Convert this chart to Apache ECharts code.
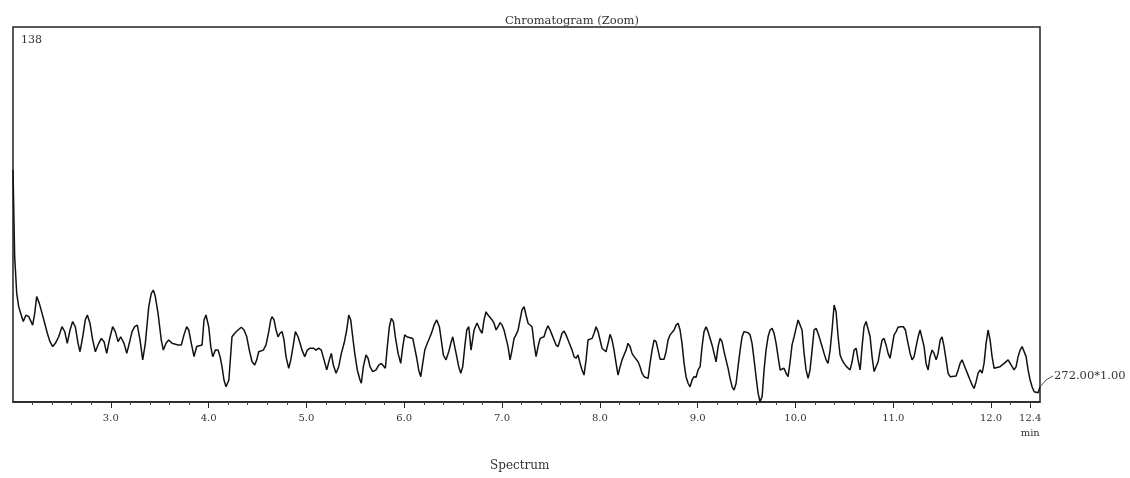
<!DOCTYPE html>
<html>
<head>
<meta charset="utf-8">
<script src="https://cdn.jsdelivr.net/npm/echarts@6/dist/echarts.min.js"></script>
<style>html,body{margin:0;padding:0;background:#fff}#c{width:1130px;height:478px}</style>
</head>
<body>
<div id="c"></div>
<script>
// retention time (min)
const times = [
2.000,2.017,2.038,2.058,2.079,2.105,2.133,2.161,2.181,2.201,2.222,2.242,2.269,2.297,2.324,2.351,2.378,2.406,2.433,2.467,
2.501,2.529,2.555,2.583,2.610,2.637,2.665,2.685,2.713,2.739,2.760,2.787,2.815,2.842,2.869,2.903,2.931,2.958,2.985,3.019,
3.046,3.074,3.101,3.135,3.163,3.189,3.217,3.244,3.271,3.299,3.326,3.353,3.388,3.414,3.435,3.455,3.483,3.516,3.537,3.564,
3.592,3.626,3.687,3.721,3.748,3.776,3.797,3.823,3.851,3.878,3.933,3.953,3.973,4.001,4.022,4.042,4.069,4.096,4.117,4.137,
4.157,4.178,4.207,4.239,4.267,4.301,4.334,4.362,4.390,4.416,4.444,4.471,4.492,4.512,4.559,4.587,4.615,4.635,4.648,4.669,
4.689,4.710,4.730,4.751,4.771,4.791,4.819,4.840,4.866,4.887,4.914,4.935,4.955,4.983,5.009,5.037,5.071,5.098,5.126,5.152,
5.180,5.208,5.234,5.255,5.275,5.303,5.330,5.357,5.385,5.412,5.433,5.453,5.473,5.494,5.520,5.548,5.561,5.582,5.609,5.630,
5.650,5.678,5.712,5.739,5.766,5.807,5.827,5.848,5.868,5.889,5.909,5.937,5.964,5.985,6.005,6.026,6.087,6.107,6.128,6.148,
6.169,6.189,6.210,6.236,6.264,6.284,6.305,6.332,6.359,6.379,6.400,6.427,6.455,6.476,6.496,6.516,6.537,6.557,6.578,6.598,
6.619,6.639,6.660,6.683,6.714,6.744,6.775,6.796,6.816,6.836,6.857,6.898,6.918,6.939,6.959,6.980,7.000,7.020,7.041,7.061,
7.082,7.102,7.123,7.143,7.164,7.184,7.204,7.225,7.245,7.266,7.286,7.307,7.327,7.348,7.368,7.389,7.429,7.450,7.470,7.491,
7.511,7.532,7.552,7.573,7.593,7.613,7.634,7.654,7.675,7.695,7.716,7.736,7.757,7.777,7.798,7.818,7.838,7.859,7.879,7.920,
7.941,7.961,7.982,8.002,8.022,8.063,8.084,8.104,8.125,8.145,8.166,8.186,8.207,8.227,8.247,8.268,8.288,8.309,8.329,8.350,
8.391,8.411,8.431,8.452,8.493,8.513,8.534,8.554,8.575,8.595,8.616,8.656,8.677,8.697,8.718,8.759,8.779,8.800,8.820,8.840,
8.861,8.881,8.902,8.922,8.943,8.963,8.984,9.004,9.025,9.045,9.065,9.086,9.106,9.127,9.147,9.168,9.188,9.209,9.229,9.249,
9.270,9.290,9.311,9.331,9.352,9.372,9.393,9.413,9.434,9.454,9.474,9.515,9.536,9.556,9.577,9.597,9.618,9.638,9.659,9.679,
9.699,9.720,9.740,9.761,9.781,9.802,9.822,9.843,9.863,9.883,9.904,9.924,9.945,9.965,9.986,10.006,10.027,10.047,10.067,10.088,
10.108,10.129,10.149,10.170,10.190,10.211,10.231,10.252,10.272,10.292,10.313,10.333,10.354,10.374,10.395,10.415,10.436,10.456,10.476,10.497,
10.517,10.558,10.579,10.599,10.620,10.640,10.661,10.681,10.701,10.722,10.742,10.763,10.783,10.804,10.824,10.845,10.865,10.885,10.906,10.926,
10.947,10.967,10.988,11.008,11.029,11.049,11.070,11.103,11.124,11.144,11.172,11.192,11.213,11.233,11.254,11.274,11.294,11.315,11.335,11.356,
11.376,11.397,11.417,11.438,11.458,11.479,11.499,11.519,11.540,11.560,11.581,11.642,11.663,11.683,11.703,11.724,11.744,11.765,11.785,11.806,
11.826,11.847,11.867,11.888,11.908,11.928,11.949,11.969,11.990,12.010,12.031,12.051,12.092,12.112,12.133,12.174,12.194,12.215,12.235,12.256,
12.276,12.297,12.317,12.337,12.358,12.378,12.399,12.419,12.440,12.460,12.481,12.500
];
// intensity (arbitrary units, full scale 138)
const intensity = [
85.4,53.5,40.0,35.1,32.6,29.6,32.0,31.4,32.0,28.3,32.6,38.8,36.3,32.6,29.0,25.3,22.2,20.4,21.6,24.0,
27.7,25.9,21.6,26.5,29.6,27.7,21.6,18.5,24.0,30.2,32.0,29.0,22.8,18.5,21.0,23.4,22.2,17.9,22.8,27.7,
25.9,22.2,24.0,21.6,17.9,21.6,25.9,27.7,28.3,22.8,15.5,21.6,35.1,40.0,41.2,38.8,32.6,22.8,19.1,21.6,
22.8,21.6,21.0,21.0,24.7,27.7,26.5,21.6,16.7,20.4,21.0,30.2,32.0,27.7,20.4,16.7,19.1,19.1,16.7,13.0,
8.1,5.6,8.1,24.0,25.3,26.5,27.5,26.5,24.0,19.1,14.8,13.6,15.5,18.5,19.1,21.0,25.9,30.2,31.4,30.2,
26.5,24.0,25.3,25.9,22.8,16.7,12.4,15.5,21.0,25.9,24.0,21.6,19.1,16.7,19.1,19.8,19.8,19.1,19.8,19.1,
15.5,11.8,15.5,17.9,13.6,10.6,13.0,17.9,21.6,26.5,32.0,30.2,24.0,17.9,11.8,8.1,6.9,13.0,17.3,16.1,
13.0,11.2,11.8,13.6,14.2,12.4,20.4,27.7,30.8,29.6,24.0,17.9,14.2,20.4,24.7,24.0,23.4,22.8,16.1,11.8,
9.3,14.2,19.1,21.6,24.0,25.9,28.3,30.2,27.7,22.8,17.3,15.5,18.5,21.6,24.0,20.4,16.7,13.0,10.6,13.0,
20.4,26.5,27.7,19.1,26.5,29.1,26.5,25.3,30.2,33.2,32.0,30.2,29.0,26.5,27.7,29.2,28.3,26.5,23.4,20.4,
15.5,19.1,23.4,24.7,26.5,30.2,33.9,35.1,32.0,29.0,29.0,27.7,21.6,16.7,20.4,23.4,24.0,26.5,28.0,26.5,
24.7,22.8,21.0,20.4,22.8,25.3,26.1,24.7,22.8,21.0,19.1,16.7,16.1,17.3,14.2,11.8,9.9,15.5,22.8,23.4,
25.3,27.7,25.9,22.8,19.8,18.5,21.6,24.9,22.8,19.1,14.2,9.9,13.0,15.5,17.3,19.1,21.6,20.4,17.9,16.7,
14.8,13.0,10.6,9.3,8.7,14.2,19.1,22.8,22.2,19.1,15.7,15.7,18.5,22.8,24.7,26.5,28.3,29.0,26.5,21.6,
14.2,9.3,6.9,5.6,8.1,9.3,9.1,11.8,13.0,20.4,25.9,27.7,25.9,23.4,21.0,17.9,14.8,20.4,23.4,22.2,
18.5,15.5,12.4,8.7,5.6,4.4,6.9,13.0,19.1,24.0,25.9,25.5,24.7,21.6,15.5,9.3,3.2,0.1,2.0,11.8,
19.1,24.0,26.5,27.1,25.3,21.6,16.7,11.8,12.4,12.4,10.6,9.3,14.8,21.0,24.0,27.1,30.2,30.2,26.5,17.9,
11.8,8.7,11.8,19.1,26.5,27.1,25.3,22.8,20.4,17.9,15.5,14.2,19.1,26.5,35.7,33.2,24.0,17.3,15.5,14.2,
13.2,11.8,14.8,19.1,19.8,15.5,11.8,20.4,27.7,29.6,29.0,24.0,16.7,11.2,10.6,14.8,19.1,22.8,23.4,21.0,
17.9,16.1,20.4,24.7,25.9,27.5,27.7,27.7,26.5,22.8,17.9,15.5,16.7,20.4,24.0,26.5,25.9,20.4,14.2,11.8,
16.7,19.1,17.9,15.5,17.9,22.8,24.0,20.4,15.5,10.6,9.3,9.6,11.8,14.2,15.5,13.6,11.8,9.9,8.1,6.3,
5.0,7.5,10.6,11.8,10.6,14.2,21.6,26.5,22.8,16.7,12.4,11.8,13.0,13.0,14.2,15.5,14.8,13.0,11.8,13.0,
16.7,19.1,20.4,20.1,16.7,11.8,8.1,5.6,3.8,3.2,3.4,5.6
];
const xTickLabels = [3, 4, 5, 6, 7, 8, 9, 10, 11, 12, 12.4];
const yTopLabel = [138];
const traceName = '272.00*1.00';

const font = 'DejaVu Serif';
const chart = echarts.init(document.getElementById('c'), null, {renderer: 'canvas'});
const data = times.map((t, i) => [t, intensity[i]]);

chart.setOption({
  animation: false,
  backgroundColor: '#fff',
  title: {
    text: 'Chromatogram (Zoom)',
    left: 567, top: 10, textAlign: 'center',
    textStyle: {fontFamily: font, fontSize: 11.5, fontWeight: 'normal', color: '#333'}
  },
  grid: {left: 13, right: 90, top: 27, bottom: 76, show: true, borderColor: '#222', borderWidth: 1.5, backgroundColor: 'transparent'},
  xAxis: {
    type: 'value', min: 2, max: 12.5, interval: 1,
    axisLine: {show: true, lineStyle: {color: '#222', width: 1.5}},
    axisTick: {show: true, length: 6, lineStyle: {color: '#222'}, customValues: xTickLabels},
    minorTick: {show: true, splitNumber: 5, length: 3, lineStyle: {color: '#444'}},
    splitLine: {show: false},
    axisLabel: {
      customValues: xTickLabels, margin: 11,
      fontFamily: font, fontSize: 10, color: '#333',
      formatter: v => v === 12.4 ? '12.4\n{u|min}' : v.toFixed(1),
      rich: {u: {fontFamily: font, fontSize: 10, color: '#333', padding: [5, 0, 0, 0]}}
    }
  },
  yAxis: {
    type: 'value', min: 0, max: 138,
    axisLine: {show: false}, axisTick: {show: false}, splitLine: {show: false},
    axisLabel: {
      show: true, inside: true, customValues: yTopLabel, margin: 8,
      verticalAlign: 'top', padding: [8, 0, 0, 0],
      fontFamily: font, fontSize: 11, color: '#333'
    }
  },
  series: [{
    type: 'line', data: data, showSymbol: false, symbol: 'none',
    lineStyle: {color: '#111', width: 1.5},
    clip: true,
    endLabel: {
      show: true, formatter: traceName, offset: [6, -11],
      fontFamily: font, fontSize: 11.5, color: '#333'
    }
  }],
  graphic: [
    {type: 'text', left: 490, top: 460, style: {text: 'Spectrum', fontFamily: font, fontSize: 12, fill: '#333'}},
    {type: 'polyline', shape: {points: [[1040, 387], [1046, 380], [1053, 376]]}, style: {stroke: '#555', lineWidth: 1, fill: null}}
  ]
});
</script>
</body>
</html>
